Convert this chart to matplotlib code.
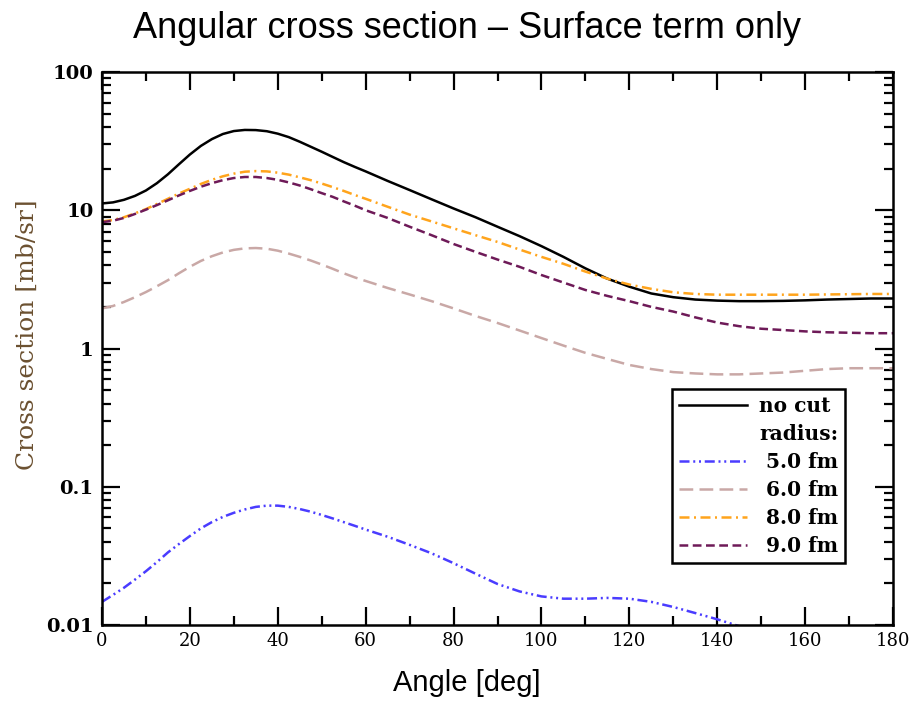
import numpy as np
import matplotlib
matplotlib.use("Agg")
import matplotlib.pyplot as plt
from matplotlib.lines import Line2D
from matplotlib.ticker import LogLocator, MultipleLocator, FixedFormatter, FixedLocator

# valeurs (pas de 2.5 deg jusqu'a 60, puis 5 deg)
angle = [0, 2.5, 5, 7.5, 10, 12.5, 15, 17.5, 20, 22.5, 25, 27.5, 30, 32.5, 35, 37.5,
         40, 42.5, 45, 47.5, 50, 52.5, 55, 57.5, 60, 65, 70, 75, 80, 85, 90, 95, 100,
         105, 110, 115, 120, 125, 130, 135, 140, 145, 150, 155, 160, 165, 170, 175, 180]

no_cut = [11.2, 11.4, 11.9, 12.7, 13.9, 15.7, 18.2, 21.5, 25.3, 29.2, 32.7, 35.6,
          37.4, 38.1, 38.0, 37.3, 35.8, 33.8, 31.3, 28.8, 26.5, 24.3, 22.3, 20.6, 19.1,
          16.3, 14.0, 12.0, 10.3, 8.9, 7.6, 6.5, 5.5, 4.6, 3.8, 3.2, 2.8, 2.5, 2.35,
          2.26, 2.22, 2.2, 2.2, 2.21, 2.23, 2.26, 2.28, 2.3, 2.3]

r6 = [1.95, 2.03, 2.17, 2.35, 2.56, 2.82, 3.12, 3.50, 3.90, 4.30, 4.65, 4.95, 5.17,
      5.30, 5.33, 5.27, 5.10, 4.86, 4.60, 4.33, 4.05, 3.77, 3.50, 3.27, 3.08, 2.74,
      2.46, 2.2, 1.95, 1.72, 1.53, 1.35, 1.19, 1.05, 0.93, 0.84, 0.76, 0.71, 0.675,
      0.66, 0.65, 0.65, 0.66, 0.67, 0.69, 0.71, 0.72, 0.72, 0.72]

r8 = [8.3, 8.5, 8.9, 9.5, 10.2, 11.1, 12.1, 13.2, 14.3, 15.5, 16.6, 17.6, 18.4, 19.0,
      19.2, 19.1, 18.7, 18.1, 17.3, 16.5, 15.6, 14.7, 13.8, 12.9, 12.1, 10.6, 9.3,
      8.3, 7.4, 6.6, 5.9, 5.2, 4.6, 4.1, 3.6, 3.2, 2.9, 2.7, 2.55, 2.48, 2.45, 2.45,
      2.45, 2.45, 2.45, 2.46, 2.47, 2.48, 2.48]

r9 = [8.2, 8.4, 8.8, 9.4, 10.1, 10.9, 11.8, 12.8, 13.8, 14.8, 15.7, 16.5, 17.1, 17.4,
      17.4, 17.1, 16.6, 15.9, 15.1, 14.2, 13.3, 12.5, 11.6, 10.8, 10.0, 8.8, 7.6, 6.6,
      5.7, 5.0, 4.4, 3.9, 3.4, 3.0, 2.65, 2.4, 2.2, 2.0, 1.85, 1.68, 1.54, 1.45, 1.39,
      1.36, 1.33, 1.31, 1.3, 1.29, 1.29]

# le rayon 5 fm sort du cadre vers 145 deg
angle5 = angle[:43]
r5 = [0.0147, 0.0165, 0.0186, 0.0213, 0.0245, 0.0285, 0.0335, 0.0385, 0.0440, 0.0500,
      0.0555, 0.0605, 0.0648, 0.0685, 0.0715, 0.0730, 0.0730, 0.0715, 0.0690, 0.0660,
      0.0625, 0.0590, 0.0555, 0.0522, 0.0490, 0.0435, 0.038, 0.033, 0.028, 0.0235,
      0.0198, 0.0175, 0.0161, 0.0155, 0.0155, 0.0157, 0.0155, 0.0147, 0.0135, 0.0122,
      0.011, 0.0098, 0.0088]

ytick_vals = [0.01, 0.1, 1, 10, 100]
ytick_txt = ["0.01", "0.1", "1", "10", "100"]

BLEU = "#4a3cff"
ROSE = "#c9a8a6"
ORANGE = "#ffa41c"
VIOLET = "#6e1a58"

serif = "DejaVu Serif"

styles = {
    "noir": dict(color="black", lw=1.8),
    "r5": dict(color=BLEU, lw=1.8, ls=(0, (4, 1.5, 0.8, 1.5, 0.8, 1.5))),
    "r6": dict(color=ROSE, lw=1.8, ls=(0, (5.5, 2.5))),
    "r8": dict(color=ORANGE, lw=1.8, ls=(0, (4, 1.8, 0.8, 1.8))),
    "r9": dict(color=VIOLET, lw=1.8, ls=(0, (3.5, 1.8))),
}

fig = plt.figure(figsize=(9.14, 7.04), dpi=100)
ax = fig.add_axes([102 / 914, 1 - 625 / 704, 791 / 914, 553 / 704])

ax.plot(angle, no_cut, **styles["noir"])
ax.plot(angle5, r5, **styles["r5"])
ax.plot(angle, r6, **styles["r6"])
ax.plot(angle, r8, **styles["r8"])
ax.plot(angle, r9, **styles["r9"])

ax.set_yscale("log")
ax.set_xlim(0, 180)
ax.set_ylim(0.01, 100)

ax.xaxis.set_major_locator(MultipleLocator(20))
ax.xaxis.set_minor_locator(MultipleLocator(10))
ax.yaxis.set_major_locator(FixedLocator(ytick_vals))
ax.yaxis.set_major_formatter(FixedFormatter(ytick_txt))
ax.yaxis.set_minor_locator(LogLocator(base=10, subs=np.arange(2, 10)))
ax.yaxis.set_minor_formatter(FixedFormatter([]))

ax.tick_params(which="both", direction="in", top=True, right=True, width=1.6, color="black")
ax.tick_params(which="major", length=13)
ax.tick_params(which="minor", length=6.5)
ax.tick_params(axis="x", labelsize=13, pad=5)
ax.tick_params(axis="y", labelsize=14, pad=6)
for lab in ax.get_xticklabels():
    lab.set_family(serif)
for lab in ax.get_yticklabels():
    lab.set_family(serif)
    lab.set_fontweight("bold")
for s in ax.spines.values():
    s.set_linewidth(1.8)

fig.text(27 / 914, 1 - 335 / 704, "Cross section [mb/sr]", family=serif, fontsize=18,
         color="#6b5030", rotation=90, ha="center", va="center")
fig.text(467 / 914, 1 - 683 / 704, "Angle [deg]", family="Liberation Sans", fontsize=21,
         ha="center", va="center")
fig.text(467 / 914, 1 - 28 / 704, "Angular cross section \u2013 Surface term only",
         family="Liberation Sans", fontsize=26, ha="center", va="center")

# legende
handles = [Line2D([], [], **styles["noir"]),
           Line2D([], [], color="none"),
           Line2D([], [], **styles["r5"]),
           Line2D([], [], **styles["r6"]),
           Line2D([], [], **styles["r8"]),
           Line2D([], [], **styles["r9"])]
labels = ["no cut", "radius:", " 5.0 fm", " 6.0 fm", " 8.0 fm", " 9.0 fm"]
leg = ax.legend(handles, labels, loc="upper left", bbox_to_anchor=(0.72, 0.427),
                borderaxespad=0, fancybox=False, edgecolor="black", framealpha=1,
                handlelength=3.4, handletextpad=0.6, labelspacing=0.4,
                borderpad=0.35, prop={"family": serif, "size": 14.5, "weight": "bold"})
leg.get_frame().set_linewidth(1.8)

fig.savefig("out.png", dpi=100)
